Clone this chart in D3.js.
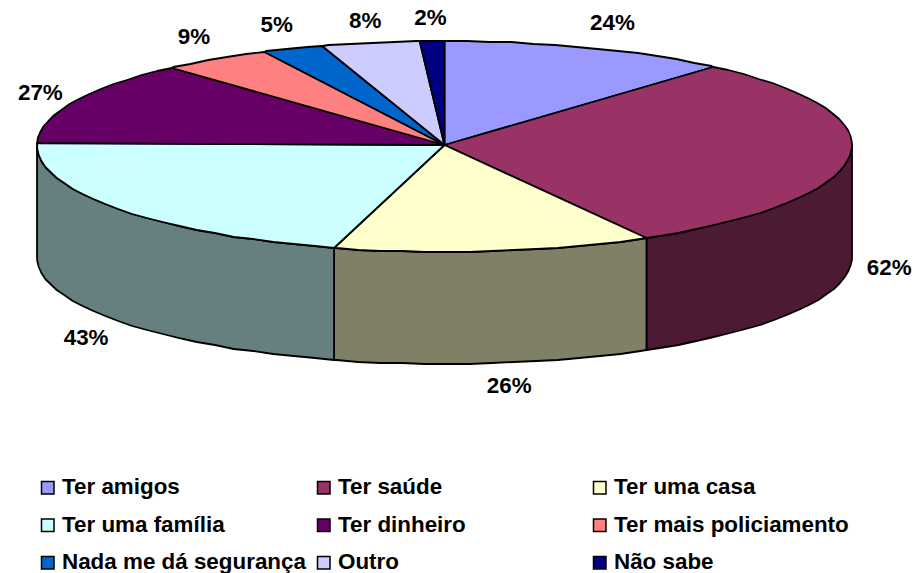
<!DOCTYPE html>
<html>
<head>
<meta charset="utf-8">
<script src="https://cdn.jsdelivr.net/npm/d3@7"></script>
<style>
  html, body { margin: 0; padding: 0; background: #fff; }
  text { font-family: "Liberation Sans", Arial, sans-serif; font-weight: bold; font-size: 22.4px; fill: #000; }
</style>
</head>
<body>
<div id="chart"></div>
<script>
// Data (labels show the values rounded)
var categories = ["Ter amigos", "Ter saúde", "Ter uma casa", "Ter uma família", "Ter dinheiro",
  "Ter mais policiamento", "Nada me dá segurança", "Outro", "Não sabe"];
var values = [23.6, 62.4, 26, 43, 27, 9, 5, 8, 2];
var topColors = ["#9999FF", "#993366", "#FFFFCC", "#CCFFFF", "#660066", "#FF8080", "#0066CC", "#CCCCFF", "#000080"];

var width = 918, height = 573;
var cx = 444.5, cy = 145, rx = 407.5, ryBack = 104, ryFront = 107, depth = 112;

var svg = d3.select("#chart").append("svg")
  .attr("width", width)
  .attr("height", height);

// unit circle -> tilted ellipse, the front half is a little deeper
var xScale = d3.scaleLinear().domain([-1, 1]).range([cx - rx, cx + rx]);
var yScale = d3.scaleLinear().domain([-1, 0, 1]).range([cy + ryFront, cy, cy - ryBack]);

var slices = d3.pie().sort(null).value(function (d) { return d; })(values);

var line = d3.line();

// Points along the rim, on a shared coarse grid so the edge has the same small bumps as the picture
var gridStep = 0.055;
function rim(a0, a1, dy) {
  var angles = [a0];
  d3.range(Math.ceil(a0 / gridStep), Math.floor(a1 / gridStep) + 1).forEach(function (k) {
    angles.push(k * gridStep);
  });
  angles.push(a1);
  return angles.map(function (a) {
    return [xScale(Math.sin(a)), Math.round(yScale(Math.cos(a))) + dy];
  });
}

// Side wall, only the part facing the viewer
var walls = svg.append("g");
slices.forEach(function (d, i) {
  var a0 = Math.max(d.startAngle, Math.PI / 2);
  var a1 = Math.min(d.endAngle, Math.PI * 1.5);
  if (a1 <= a0) return;
  var c = d3.rgb(topColors[i]);
  var pts = rim(a0, a1, 0).concat(rim(a0, a1, depth).reverse());
  walls.append("path")
    .attr("d", line(pts) + "Z")
    .attr("fill", d3.rgb(c.r / 2, c.g / 2, c.b / 2))
    .attr("stroke", "#000")
    .attr("stroke-width", 1.8)
    .attr("stroke-linejoin", "round");
});

// Top of the pie
svg.append("g").selectAll("path")
  .data(slices)
  .enter().append("path")
  .attr("d", function (d) {
    return line([[cx, cy]].concat(rim(d.startAngle, d.endAngle, 0))) + "Z";
  })
  .attr("fill", function (d, i) { return topColors[i]; })
  .attr("stroke", "#000")
  .attr("stroke-width", 1.8)
  .attr("stroke-linejoin", "round");

// Percent labels around the rim
var labelNudge = [30, 0, 85, 0, -3, 0, 4, -11, 12];
var labelLift = [2, 9, 0, 0, -1, 2, 1, -2, -1];
svg.append("g").selectAll("text")
  .data(slices)
  .enter().append("text")
  .attr("text-anchor", "middle")
  .attr("dy", ".35em")
  .attr("x", function (d, i) {
    var mid = (d.startAngle + d.endAngle) / 2;
    return cx + (447 + labelNudge[i]) * Math.sin(mid);
  })
  .attr("y", function (d, i) {
    var mid = (d.startAngle + d.endAngle) / 2, c = Math.cos(mid);
    return (c > 0 ? cy - 129 * c : cy - 122 * c + 119) - labelLift[i];
  })
  .text(function (d) { return Math.round(d.value) + "%"; });

// Legend
var legendX = d3.scalePoint().domain([0, 1, 2]).range([41, 593]);
var legendY = d3.scalePoint().domain([0, 1, 2]).range([481, 556]);

var legend = svg.append("g").selectAll("g")
  .data(categories)
  .enter().append("g")
  .attr("transform", function (d, i) {
    return "translate(" + legendX(i % 3) + "," + legendY(Math.floor(i / 3)) + ")";
  });

legend.append("rect")
  .attr("x", 0.5)
  .attr("y", 0.5)
  .attr("width", 12.5)
  .attr("height", 12.5)
  .attr("fill", function (d, i) { return topColors[i]; })
  .attr("stroke", "#000")
  .attr("stroke-width", 1.5);

legend.append("text")
  .attr("x", 21)
  .attr("y", 13)
  .text(function (d) { return d; });
</script>
</body>
</html>
